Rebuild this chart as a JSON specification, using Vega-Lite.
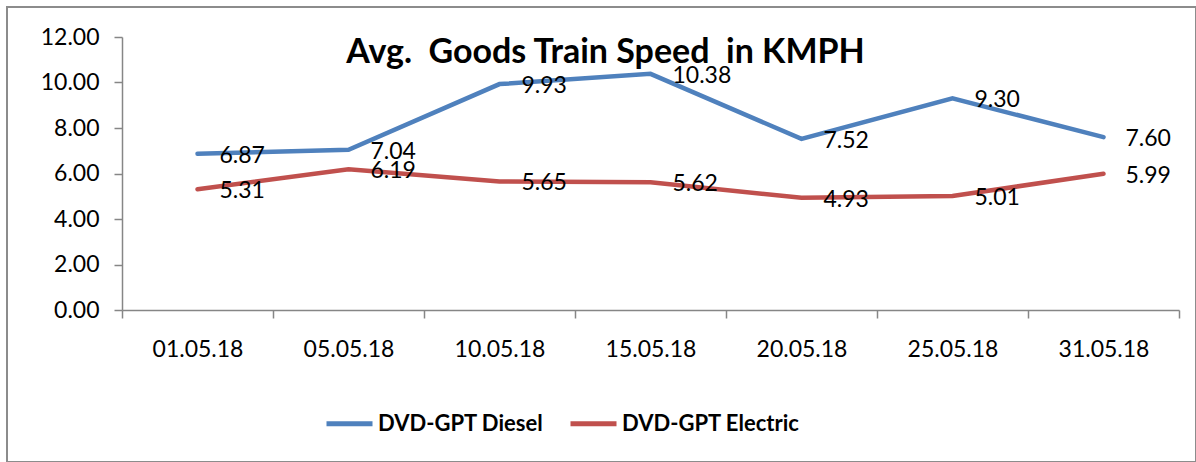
{
  "$schema": "https://vega.github.io/schema/vega-lite/v6.json",
  "autosize": "none",
  "padding": {"left": 7, "top": 7, "right": 0, "bottom": 0},
  "width": 1189,
  "height": 455,
  "background": "white",
  "title": {
    "text": "Avg.\u00a0 Goods Train Speed\u00a0 in KMPH",
    "anchor": "middle",
    "frame": "group",
    "font": "Lato",
    "fontSize": 34,
    "fontWeight": "bold",
    "color": "black",
    "baseline": "alphabetic",
    "offset": -90,
    "dx": 4
  },
  "data": {
    "values": [
      {"date": "01.05.18", "series": "DVD-GPT Diesel", "speed": 6.87},
      {"date": "05.05.18", "series": "DVD-GPT Diesel", "speed": 7.04},
      {"date": "10.05.18", "series": "DVD-GPT Diesel", "speed": 9.93},
      {"date": "15.05.18", "series": "DVD-GPT Diesel", "speed": 10.38},
      {"date": "20.05.18", "series": "DVD-GPT Diesel", "speed": 7.52},
      {"date": "25.05.18", "series": "DVD-GPT Diesel", "speed": 9.30},
      {"date": "31.05.18", "series": "DVD-GPT Diesel", "speed": 7.60},
      {"date": "01.05.18", "series": "DVD-GPT Electric", "speed": 5.31},
      {"date": "05.05.18", "series": "DVD-GPT Electric", "speed": 6.19},
      {"date": "10.05.18", "series": "DVD-GPT Electric", "speed": 5.65},
      {"date": "15.05.18", "series": "DVD-GPT Electric", "speed": 5.62},
      {"date": "20.05.18", "series": "DVD-GPT Electric", "speed": 4.93},
      {"date": "25.05.18", "series": "DVD-GPT Electric", "speed": 5.01},
      {"date": "31.05.18", "series": "DVD-GPT Electric", "speed": 5.99}
    ]
  },
  "encoding": {
    "x": {
      "field": "date",
      "type": "nominal",
      "sort": null,
      "scale": {"type": "band", "range": [115, 1172], "paddingInner": 0, "paddingOuter": 0},
      "axis": {
        "title": null,
        "orient": "bottom",
        "offset": -152,
        "labelAngle": 0,
        "tickBand": "extent",
        "domainColor": "#868686",
        "domainWidth": 1.5,
        "tickColor": "#868686",
        "tickWidth": 1.5,
        "tickSize": 8,
        "labelFont": "Lato",
        "labelFontSize": 23,
        "labelColor": "black",
        "labelPadding": 20,
        "grid": false
      }
    },
    "y": {
      "field": "speed",
      "type": "quantitative",
      "scale": {"domain": [0, 12], "range": [303, 30], "nice": false, "zero": true},
      "axis": {
        "title": null,
        "orient": "left",
        "offset": -115,
        "values": [0, 2, 4, 6, 8, 10, 12],
        "format": ".2f",
        "domainColor": "#868686",
        "domainWidth": 1.5,
        "tickColor": "#868686",
        "tickWidth": 1.5,
        "tickSize": 8,
        "labelFont": "Lato",
        "labelFontSize": 23,
        "labelColor": "black",
        "labelPadding": 15,
        "grid": false
      }
    },
    "color": {
      "field": "series",
      "type": "nominal",
      "scale": {"domain": ["DVD-GPT Diesel", "DVD-GPT Electric"], "range": ["#4F81BD", "#C0504D"]},
      "legend": {
        "title": null,
        "orient": "none",
        "direction": "horizontal",
        "legendX": 317,
        "legendY": 391,
        "symbolType": "stroke",
        "symbolSize": 2116,
        "symbolStrokeWidth": 5,
        "labelFont": "Lato",
        "labelFontSize": 22,
        "labelFontWeight": "bold",
        "labelColor": "black",
        "labelOffset": 3,
        "columnPadding": 16,
        "labelLimit": 400
      }
    }
  },
  "layer": [
    {"mark": {"type": "line", "strokeWidth": 4.5, "strokeCap": "round", "strokeJoin": "miter"}},
    {
      "mark": {"type": "text", "align": "left", "baseline": "middle", "dx": 22, "dy": 2, "font": "Lato", "fontSize": 23, "color": "black"},
      "encoding": {
        "text": {"field": "speed", "type": "quantitative", "format": ".2f"},
        "color": {"value": "black"}
      }
    }
  ],
  "config": {
    "view": {"stroke": "#8c8c8c", "strokeWidth": 2}
  }
}
